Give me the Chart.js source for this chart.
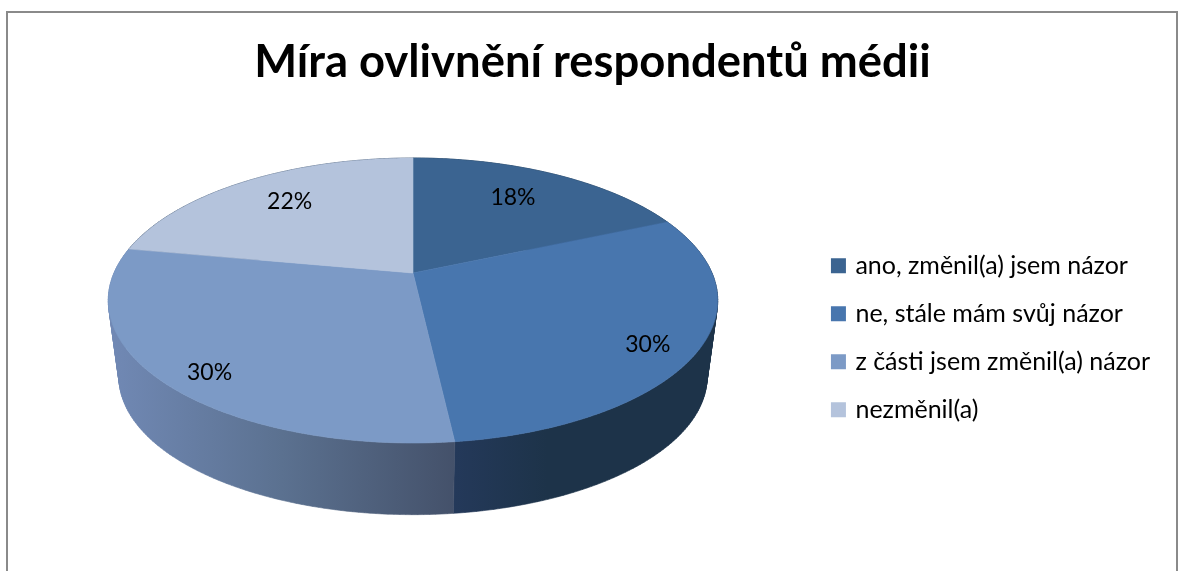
<!DOCTYPE html>
<html>
<head>
<meta charset="utf-8">
<title>Míra ovlivnění respondentů médii</title>
<script src="https://cdn.jsdelivr.net/npm/chart.js@4"></script>
<style>
  html, body { margin: 0; background: #fff; }
  canvas { display: block; }
</style>
</head>
<body>
<canvas id="pie-chart" width="1180" height="571"></canvas>
<script>
const chartTitle = "Míra ovlivnění respondentů médii";
const categories = ["ano, změnil(a) jsem názor", "ne, stále mám svůj názor", "z části jsem změnil(a) názor", "nezměnil(a)"];
const shares = [18.45, 29.75, 29.7, 22.1];
const sliceColors = ['#3b6491', '#4876ae', '#7c9ac6', '#b4c3dc'];

// Chart.js has no 3D pie, so the arcs it computes are projected onto a tilted disc
const disc = { x: 413, y: 273, rx: 299, ry: 137.2, k: 0.193, depth: 77.6, shrink: 0.965 };

function project(angle, f) {
  const u = Math.cos(angle) * f, v = Math.sin(angle) * f;
  const d = 1 - disc.k * v;
  return [disc.x + disc.rx * u / d, disc.y + disc.ry * v / d];
}

function lowerRim(p) {
  return [disc.x + (p[0] - disc.x) * disc.shrink, disc.y + disc.depth + (p[1] - disc.y) * disc.shrink];
}

function rimPoints(arc) {
  const pts = [];
  const n = Math.ceil((arc.endAngle - arc.startAngle) * 60);
  for (let i = 0; i <= n; i++) {
    pts.push(project(arc.startAngle + (arc.endAngle - arc.startAngle) * i / n, 1));
  }
  return pts;
}

function fillPath(ctx, pts, fill) {
  ctx.beginPath();
  pts.forEach((p, i) => i ? ctx.lineTo(p[0], p[1]) : ctx.moveTo(p[0], p[1]));
  ctx.closePath();
  ctx.fillStyle = fill;
  ctx.strokeStyle = fill;
  ctx.lineWidth = 0.6;
  ctx.fill();
  ctx.stroke();
}

function quadArea(q) {
  let a = 0;
  q.forEach((p, i) => {
    const n = q[(i + 1) % q.length];
    a += p[0] * n[1] - n[0] * p[1];
  });
  return a;
}

// side wall as one path of same-wound quads, so the steps leave no seams
function fillWall(ctx, rim, fill) {
  ctx.beginPath();
  for (let s = 0; s < rim.length - 1; s++) {
    const q = [rim[s], rim[s + 1], lowerRim(rim[s + 1]), lowerRim(rim[s])];
    if (quadArea(q) < 0) q.reverse();
    q.forEach((p, i) => i ? ctx.lineTo(p[0], p[1]) : ctx.moveTo(p[0], p[1]));
    ctx.closePath();
  }
  ctx.fillStyle = fill;
  ctx.strokeStyle = fill;
  ctx.lineWidth = 0.6;
  ctx.fill();
  ctx.stroke();
}

function wallFill(ctx, i) {
  if (i === 1) {
    const g = ctx.createLinearGradient(455, 0, 718, 0);
    g.addColorStop(0, '#24395a');
    g.addColorStop(0.35, '#1d3349');
    g.addColorStop(1, '#1d3349');
    return g;
  }
  if (i === 2) {
    const g = ctx.createLinearGradient(108, 0, 455, 0);
    g.addColorStop(0, '#7189b5');
    g.addColorStop(0.5, '#5b7190');
    g.addColorStop(1, '#44516a');
    return g;
  }
  return '#1d3349';
}

const labelNudge = [[-3, -3], [-5, 8], [-8, 16], [-2, -5]];
const labelReach = [0.7, 0.85, 0.8, 0.7];

const tiltedPie = {
  id: 'tiltedPie',
  beforeDraw(chart) {
    const ctx = chart.ctx;
    ctx.save();
    ctx.strokeStyle = '#8a8a8a';
    ctx.lineWidth = 2;
    ctx.beginPath();
    ctx.moveTo(7, 571);
    ctx.lineTo(7, 12);
    ctx.lineTo(1177, 12);
    ctx.lineTo(1177, 571);
    ctx.stroke();
    ctx.restore();
  },
  beforeDatasetsDraw(chart) {
    const ctx = chart.ctx;
    const arcs = chart.getDatasetMeta(0).data;
    ctx.save();
    arcs.forEach((arc, i) => fillWall(ctx, rimPoints(arc), wallFill(ctx, i)));
    arcs.forEach((arc, i) => {
      fillPath(ctx, [[disc.x, disc.y]].concat(rimPoints(arc)), sliceColors[i]);
    });
    ctx.font = '23px Lato';
    ctx.fillStyle = '#000';
    ctx.textAlign = 'center';
    ctx.textBaseline = 'middle';
    arcs.forEach((arc, i) => {
      const p = project((arc.startAngle + arc.endAngle) / 2, labelReach[i]);
      ctx.fillText(Math.round(shares[i]) + '%', p[0] + labelNudge[i][0], p[1] + labelNudge[i][1]);
    });
    ctx.restore();
    return false;
  }
};

new Chart(document.getElementById('pie-chart'), {
  type: 'pie',
  data: {
    labels: categories,
    datasets: [{ data: shares, backgroundColor: sliceColors, borderWidth: 0 }]
  },
  options: {
    responsive: false,
    animation: false,
    layout: { padding: { left: 25, right: 20 } },
    plugins: {
      tooltip: { enabled: false },
      title: {
        display: true,
        text: chartTitle,
        color: '#000',
        font: { family: 'Lato', size: 45.4, weight: 'bold' },
        padding: { top: 35, bottom: 15 }
      },
      legend: {
        position: 'right',
        fullSize: false,
        labels: {
          color: '#000',
          font: { family: 'Lato', size: 25 },
          // small box plus thick outline keeps the text as close to the swatch as in the original
          boxWidth: 9,
          boxHeight: 9,
          padding: 23,
          generateLabels(chart) {
            return Chart.overrides.pie.plugins.legend.labels.generateLabels(chart).map(item => {
              item.strokeStyle = item.fillStyle;
              item.lineWidth = 6;
              return item;
            });
          }
        }
      }
    }
  },
  plugins: [tiltedPie]
});
</script>
</body>
</html>
